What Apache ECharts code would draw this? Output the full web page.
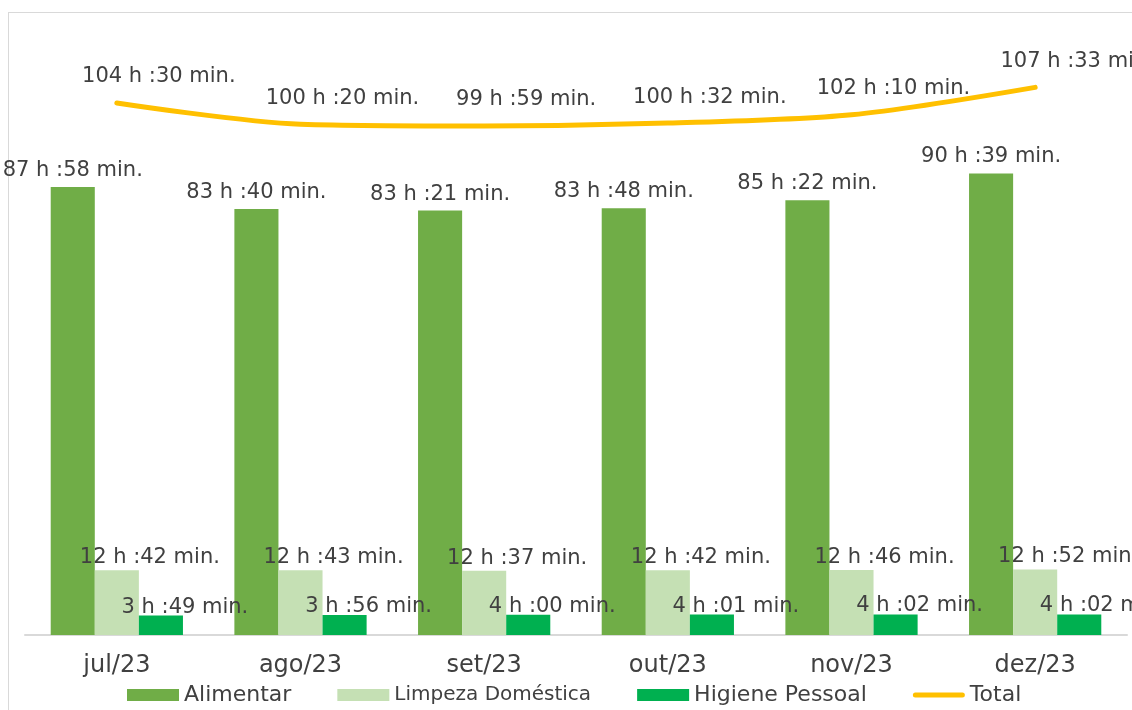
<!DOCTYPE html>
<html>
<head>
    <meta charset="utf-8">
    <title>ECharts</title>
    <script src="https://cdn.jsdelivr.net/npm/echarts@6/dist/echarts.min.js"></script>
    <style>
        body { margin: 0; background: #fff; }
        #wrap { position: relative; width: 1132px; height: 710px; overflow: hidden; }
        #frame { position: absolute; left: 8px; top: 12px; width: 1200px; height: 800px; border: 1px solid #d9d9d9; }
        #main { position: absolute; left: 0; top: 0; width: 1132px; height: 710px; }
    </style>
</head>
<body>
    <div id="wrap">
        <div id="frame"></div>
        <div id="main"></div>
    </div>
    <script type="text/javascript">
        // meses
        var meses = ['jul/23', 'ago/23', 'set/23', 'out/23', 'nov/23', 'dez/23'];
        // valores em minutos
        var alimentar = [87 * 60 + 58, 83 * 60 + 40, 83 * 60 + 21, 83 * 60 + 48, 85 * 60 + 22, 90 * 60 + 39];
        var limpeza = [12 * 60 + 42, 12 * 60 + 43, 12 * 60 + 37, 12 * 60 + 42, 12 * 60 + 46, 12 * 60 + 52];
        var higiene = [3 * 60 + 49, 3 * 60 + 56, 4 * 60 + 0, 4 * 60 + 1, 4 * 60 + 2, 4 * 60 + 2];
        var total = [104 * 60 + 30, 100 * 60 + 20, 99 * 60 + 59, 100 * 60 + 32, 102 * 60 + 10, 107 * 60 + 33];

        var fonte = 'DejaVu Sans';
        var corTexto = '#404040';

        function emHoras(arr) {
            return arr.map(function (m) { return m / 60; });
        }
        function formato(arr) {
            return function (p) {
                var m = arr[p.dataIndex];
                var h = Math.floor(m / 60);
                var r = m % 60;
                return h + ' h :' + (r < 10 ? '0' + r : r) + ' min.';
            };
        }
        function rotulo(arr, offset) {
            return {
                show: true,
                position: 'top',
                distance: 2,
                offset: offset,
                color: corTexto,
                fontFamily: fonte,
                fontSize: 21,
                formatter: formato(arr)
            };
        }

        var myChart = echarts.init(document.getElementById('main'));

        var option = {
            textStyle: { fontFamily: fonte },
            grid: { left: 25, right: 5, top: 24, bottom: 75, containLabel: false },
            legend: {
                left: 122,
                bottom: -1,
                itemWidth: 52,
                itemHeight: 12,
                itemGap: 46,
                textStyle: { color: corTexto, fontFamily: fonte, fontSize: 22 },
                data: [
                    { name: 'Alimentar', icon: 'rect' },
                    { name: 'Limpeza Doméstica', icon: 'rect', textStyle: { fontSize: 20 } },
                    { name: 'Higiene Pessoal', icon: 'rect' },
                    { name: 'Total', icon: 'path://M2.5,0 L49.5,0 A2.5,2.5 0 0 1 49.5,5 L2.5,5 A2.5,2.5 0 0 1 2.5,0 Z' }
                ]
            },
            xAxis: {
                type: 'category',
                data: meses,
                axisTick: { show: false },
                axisLine: { lineStyle: { color: '#d9d9d9', width: 2 } },
                axisLabel: { color: corTexto, fontFamily: fonte, fontSize: 24, margin: 19 }
            },
            yAxis: {
                type: 'value',
                min: 0,
                max: 120,
                show: false,
                splitLine: { show: false }
            },
            series: [
                {
                    name: 'Alimentar',
                    type: 'bar',
                    data: emHoras(alimentar),
                    barGap: '0%',
                    barCategoryGap: '28%',
                    itemStyle: { color: '#70ad47' },
                    label: rotulo(alimentar, [0, -4])
                },
                {
                    name: 'Limpeza Doméstica',
                    type: 'bar',
                    data: emHoras(limpeza),
                    itemStyle: { color: '#c5e0b4' },
                    label: rotulo(limpeza, [33, 0])
                },
                {
                    name: 'Higiene Pessoal',
                    type: 'bar',
                    data: emHoras(higiene),
                    itemStyle: { color: '#00b050' },
                    label: rotulo(higiene, [24, 4])
                },
                {
                    name: 'Total',
                    type: 'line',
                    data: emHoras(total),
                    smooth: 0.3,
                    symbol: 'circle',
                    symbolSize: 1,
                    showSymbol: true,
                    lineStyle: { color: '#ffc000', width: 5, cap: 'round' },
                    itemStyle: { color: '#ffc000' },
                    label: rotulo(total, [42, -13])
                }
            ]
        };

        myChart.setOption(option);

        window.addEventListener("resize", function () {
            myChart.resize();
        });
    </script>
</body>
</html>
